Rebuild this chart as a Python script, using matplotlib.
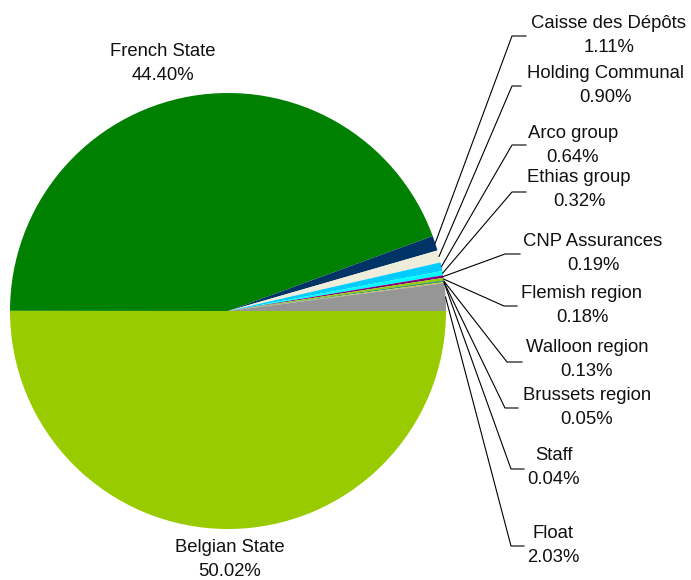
import matplotlib.pyplot as plt
import numpy as np

plt.rcParams["font.family"] = ["Liberation Sans", "DejaVu Sans"]

# shareholders and their stakes (%)
holders = ["Belgian State", "French State", "Caisse des Dépôts", "Holding Communal",
           "Arco group", "Ethias group", "CNP Assurances", "Flemish region",
           "Walloon region", "Brussets region", "Staff", "Float"]
stakes = [50.02, 44.40, 1.11, 0.90, 0.64, 0.32, 0.19, 0.18, 0.13, 0.05, 0.04, 2.03]
colours = ["#99CC00", "#008000", "#003366", "#EEECDA", "#00CCFF", "#00FFFF",
           "#800080", "#99CC00", "#339966", "#FFCC00", "#808080", "#969696"]

# layout in pixel units (origin bottom left, 691 x 580)
W, H = 691, 580
cx, cy, R = 228, H - 311, 218
# text block centre for each label
text_pos = [(230, 559), (163, 63), (609, 35), (606, 86), (573, 145), (579, 190),
            (593, 254), (582, 305), (587, 360), (587, 407), (554, 468), (553, 545)]
# horizontal leader segment (x start, x end) -- None for labels without leader
elbows = [None, None, (512, 526), (512, 521), (512, 526), (512, 526),
          (505, 520), (504, 517), (507, 522), (505, 518), (511, 524), (511, 524)]
elbow_y = [None, None, 36, 86, 145, 192, 254, 306, 362, 408, 469, 546]

fig = plt.figure(figsize=(W / 100, H / 100), dpi=100)
ax = fig.add_axes([0, 0, 1, 1])

wedges, _ = ax.pie(stakes, colors=colours, startangle=0, counterclock=False,
                   center=(cx, cy), radius=R, wedgeprops=dict(linewidth=0))
ax.set_xlim(0, W)
ax.set_ylim(0, H)
ax.set_aspect("equal")
ax.axis("off")

for i, w in enumerate(wedges):
    tx, ty = text_pos[i]
    ax.text(tx, H - ty + 12, holders[i], ha="center", va="center", fontsize=13.3, color="#111111")
    ax.text(tx, H - ty - 12, f"{stakes[i]:.2f}%", ha="center", va="center", fontsize=13.3, color="#111111")
    if elbows[i] is None:
        continue
    mid = np.deg2rad((w.theta1 + w.theta2) / 2)
    px, py = cx + R * np.cos(mid), cy + R * np.sin(mid)
    x0, x1 = elbows[i]
    ey = H - elbow_y[i]
    ax.plot([px, x0, x1], [py, ey, ey], color="black", lw=0.8)

fig.savefig("out.png", dpi=100)
